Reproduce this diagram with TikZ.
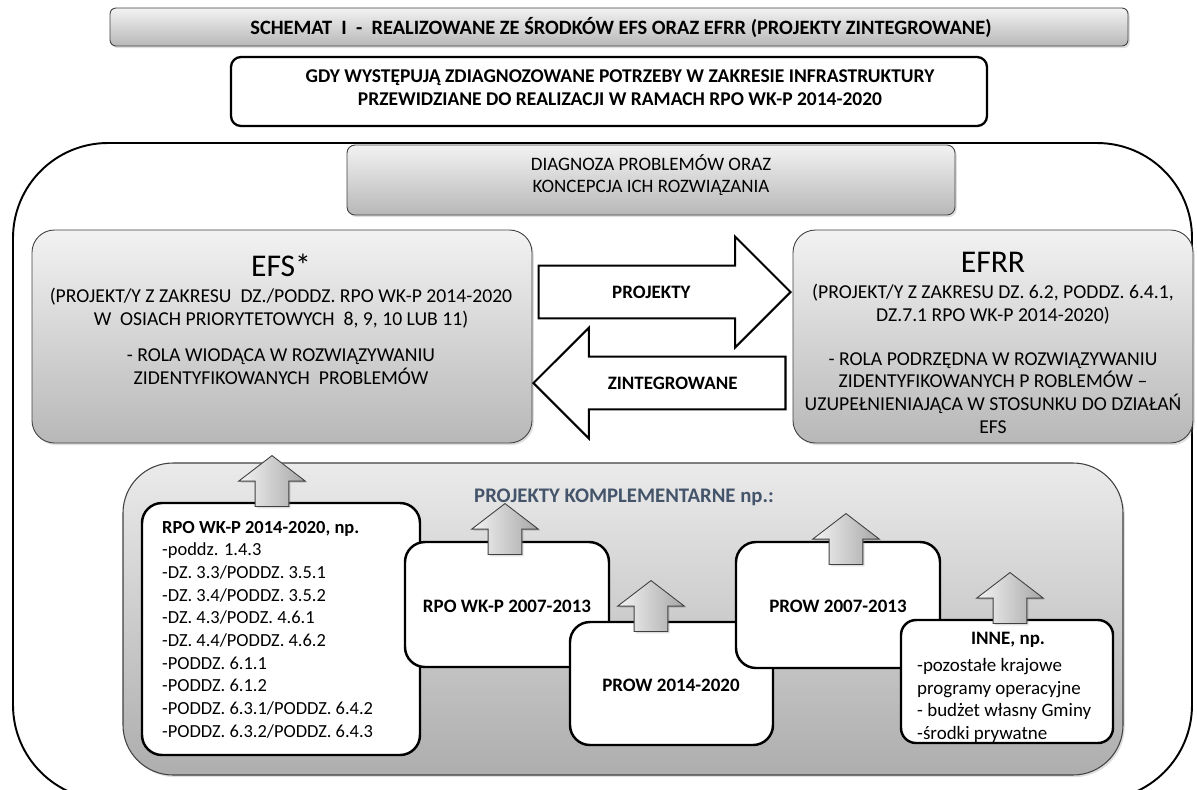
\documentclass[tikz,border=0pt]{standalone}
\usepackage{fontspec}
\setmainfont{Carlito}
\usetikzlibrary{shapes.arrows,fit,shadows}
\definecolor{granat}{HTML}{44546A}

\begin{document}
\begin{tikzpicture}[x=0.02cm, y=-0.02cm,
    font=\fontsize{10.8}{12.9}\selectfont,
    pogr/.style={font=\fontsize{10.8}{12.9}\selectfont\bfseries},
    opis/.style={font=\fontsize{11.2}{13}\selectfont, align=center},
    szary/.style={draw=black!75, line width=0.5pt, top color=black!5, bottom color=black!28,
        drop shadow={shadow xshift=1pt, shadow yshift=-1.2pt, opacity=0.25}, inner sep=0pt},
    bialy/.style={draw, line width=1.4pt, fill=white, rounded corners=0.4cm, inner sep=0pt},
    wielka/.style={single arrow, draw, line width=1.2pt, fill=white, inner xsep=2pt, inner ysep=10.9pt,
        text height=7pt, text depth=0pt, minimum height=5.04cm, single arrow head extend=0.58cm,
        single arrow tip angle=90, anchor=tip},
    wgore/.style={single arrow, shape border rotate=90, draw=black!75, line width=0.5pt,
        left color=black!4, right color=black!35, inner sep=9.35pt, text height=0pt, text depth=0pt,
        minimum height=1.02cm, single arrow head extend=0.33cm,
        single arrow tip angle=105, anchor=tip,
        drop shadow={shadow xshift=1pt, shadow yshift=-1pt, opacity=0.25}}]
    \useasboundingbox (0,0) rectangle (1197,789);
    \clip (0,0) rectangle (1197,789);

    \node[draw, line width=1.1pt, rounded corners=1.9cm, inner sep=0pt, fit={(13,143) (1192,800)}] (calosc) {};

    % naglowek
    \node[szary, rounded corners=0.12cm, fit={(110,8) (1128,46)}] (tytul) {};
    \node[font=\fontsize{11.6}{13}\selectfont\bfseries] (tytultxt) at (621,27) {SCHEMAT~ I~ -~ REALIZOWANE ZE ŚRODKÓW EFS ORAZ EFRR (PROJEKTY ZINTEGROWANE)};
    \node[draw, line width=1.3pt, fill=white, rounded corners=0.2cm, inner sep=0pt, fit={(231,57) (987,126)}] (potrzeby) {};
    \node[font=\fontsize{11.1}{13}\selectfont\bfseries, align=center] (potrzebytxt) at (620,88) {GDY WYSTĘPUJĄ ZDIAGNOZOWANE POTRZEBY W ZAKRESIE INFRASTRUKTURY\\PRZEWIDZIANE DO REALIZACJI W RAMACH RPO WK-P 2014-2020};

    \node[szary, rounded corners=0.16cm, fit={(347,145) (955,215)}] (diagnoza) {};
    \node[align=center] (diagnozatxt) at (651,175) {DIAGNOZA PROBLEMÓW ORAZ\\KONCEPCJA ICH ROZWIĄZANIA};

    % EFS i EFRR
    \node[szary, rounded corners=0.45cm, fit={(32,230) (532,443)}] (efs) {};
    \node (efstyt) at (281,265) {\fontsize{18}{20}\selectfont EFS*};
    \node[opis] (efsopis1) at (281,308) {(PROJEKT/Y Z ZAKRESU~ DZ./PODDZ. RPO WK-P 2014-2020\\W~ OSIACH PRIORYTETOWYCH~ 8, 9, 10 LUB 11)};
    \node[opis] (efsopis2) at (281,367) {- ROLA WIODĄCA W ROZWIĄZYWANIU\\ZIDENTYFIKOWANYCH~ PROBLEMÓW};

    \node[szary, rounded corners=0.45cm, fit={(793,230) (1193,443)}] (efrr) {};
    \node (efrrtyt) at (993,262) {\fontsize{18}{20}\selectfont EFRR};
    \node[opis] (efrropis1) at (993,304) {(PROJEKT/Y Z ZAKRESU DZ. 6.2, PODDZ. 6.4.1,\\DZ.7.1 RPO WK-P 2014-2020)};
    \node[opis] (efrropis2) at (993,393) {- ROLA PODRZĘDNA W ROZWIĄZYWANIU\\ZIDENTYFIKOWANYCH P ROBLEMÓW –\\UZUPEŁNIENIAJĄCA W STOSUNKU DO DZIAŁAŃ\\EFS};

    \node[wielka] (projekty) at (792,292) {\bfseries PROJEKTY};
    \node[wielka, shape border rotate=180] (zintegrowane) at (532,383) {\bfseries ZINTEGROWANE};

    % projekty komplementarne
    \node[szary, top color=black!8, bottom color=black!32, rounded corners=1cm, line width=0.6pt, fit={(123,463) (1123,775)}] (komplementarne) {};
    \node[font=\fontsize{11.8}{13}\selectfont\bfseries, text=granat] (komptxt) at (624,497) {PROJEKTY KOMPLEMENTARNE np.:};

    \node[bialy, fit={(142,503) (420,755)}] (rpo14) {};
    \node[font=\fontsize{10.5}{12.9}\selectfont, align=left, anchor=north west] (rpo14txt) at (156,515) {\textbf{RPO WK-P 2014-2020, np.}\\-poddz. 1.4.3\\-DZ. 3.3/PODDZ. 3.5.1\\-DZ. 3.4/PODDZ. 3.5.2\\-DZ. 4.3/PODZ. 4.6.1\\-DZ. 4.4/PODDZ. 4.6.2\\-PODDZ. 6.1.1\\-PODDZ. 6.1.2\\-PODDZ. 6.3.1/PODDZ. 6.4.2\\-PODDZ. 6.3.2/PODDZ. 6.4.3};
    \node[wgore] (strz1) at (272,455) {};

    \node[bialy, fit={(405,542) (609,667)}] (rpo07) {};
    \node[pogr] (rpo07txt) at (507,606) {RPO WK-P 2007-2013};
    \node[wgore] (strz2) at (505,503) {};

    \node[bialy, fit={(570,622) (773,745)}] (prow14) {};
    \node[pogr] (prow14txt) at (671,685) {PROW 2014-2020};
    \node[wgore] (strz3) at (651,580) {};

    \node[bialy, fit={(736,542) (940,668)}] (prow07) {};
    \node[pogr] (prow07txt) at (838,606) {PROW 2007-2013};
    \node[wgore] (strz4) at (846,513) {};

    \node[bialy, rounded corners=0.3cm, fit={(901,620) (1113,743)}] (inne) {};
    \node[pogr] (innetyt) at (1008,640) {INNE, np.};
    \node[align=left, anchor=north west] (innetxt) at (911,652) {-pozostałe krajowe\\programy operacyjne\\- budżet własny Gminy\\-środki prywatne};
    \node[wgore] (strz5) at (1010,572) {};
\end{tikzpicture}
\end{document}
